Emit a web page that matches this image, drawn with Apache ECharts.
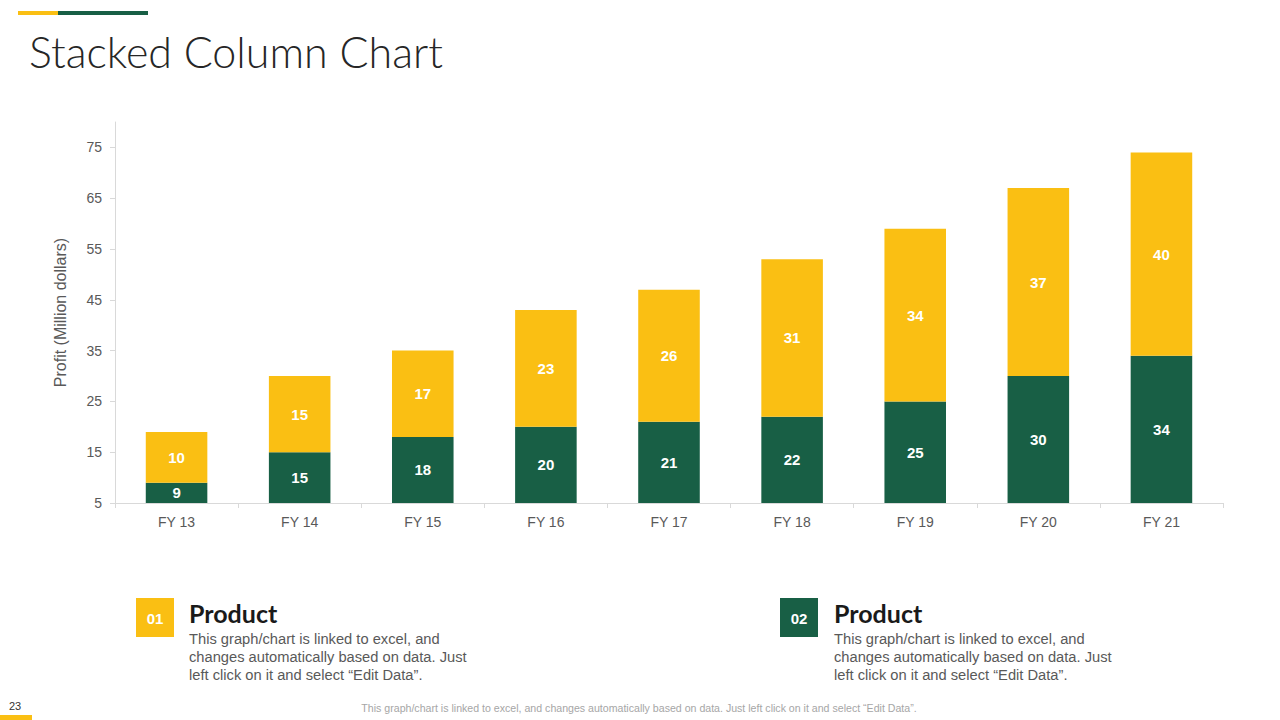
<!DOCTYPE html>
<html>
<head>
<meta charset="utf-8">
<script src="https://cdn.jsdelivr.net/npm/echarts@6/dist/echarts.min.js"></script>
<style>
html,body{margin:0;padding:0;background:#fff;}
#chart{width:1280px;height:720px;}
</style>
</head>
<body>
<div id="chart"></div>
<script>
var categories = ['FY 13','FY 14','FY 15','FY 16','FY 17','FY 18','FY 19','FY 20','FY 21'];
var seriesGreen = [9,15,18,20,21,22,25,30,34];
var seriesYellow = [10,15,17,23,26,31,34,37,40];
var yMin = 5, yMax = 80, yInterval = 10;

var GREEN = '#185F45';
var YELLOW = '#FABF13';
var descText = 'This graph/chart is linked to excel, and\nchanges automatically based on data. Just\nleft click on it and select \u201cEdit Data\u201d.';

var chart = echarts.init(document.getElementById('chart'), null, {renderer:'svg'});
chart.setOption({
  backgroundColor:'#fff',
  animation:false,
  grid:{left:115,right:57,top:122,bottom:217,containLabel:false},
  xAxis:{
    type:'category',
    data:categories,
    axisLine:{lineStyle:{color:'#d9d9d9'}},
    axisTick:{show:true,length:5,lineStyle:{color:'#d9d9d9'}},
    axisLabel:{color:'#595959',fontSize:14,fontFamily:'Liberation Sans, Arial',margin:12}
  },
  yAxis:{
    type:'value',
    min:yMin,max:yMax,interval:yInterval,
    name:'Profit (Million dollars)',
    nameLocation:'middle',
    nameGap:47,
    nameTextStyle:{color:'#595959',fontSize:16,fontFamily:'Liberation Sans, Arial'},
    axisLine:{show:true,lineStyle:{color:'#d9d9d9'}},
    axisTick:{show:true,length:5,lineStyle:{color:'#d9d9d9'}},
    splitLine:{show:false},
    axisLabel:{color:'#595959',fontSize:14,fontFamily:'Liberation Sans, Arial',margin:13,showMaxLabel:false}
  },
  series:[
    {name:'Green',type:'bar',stack:'total',data:seriesGreen,barWidth:'50%',
     itemStyle:{color:GREEN},
     label:{show:true,position:'inside',color:'#fff',fontWeight:'bold',fontSize:15,fontFamily:'Liberation Sans, Arial'}},
    {name:'Yellow',type:'bar',stack:'total',data:seriesYellow,barWidth:'50%',
     itemStyle:{color:YELLOW},
     label:{show:true,position:'inside',color:'#fff',fontWeight:'bold',fontSize:15,fontFamily:'Liberation Sans, Arial'}}
  ],
  graphic:[
    {type:'rect',shape:{x:18,y:11,width:40,height:4},style:{fill:YELLOW}},
    {type:'rect',shape:{x:58,y:11,width:90,height:4},style:{fill:GREEN}},
    {type:'text',x:29,y:51,style:{text:'Stacked Column Chart',fill:'#262626',font:'300 43px Lato',textVerticalAlign:'middle'}},
    {type:'rect',shape:{x:136,y:598,width:38,height:39},style:{fill:YELLOW}},
    {type:'text',x:155,y:618,style:{text:'01',fill:'#fff',font:'bold 15px Liberation Sans',textAlign:'center',textVerticalAlign:'middle'}},
    {type:'text',x:189,y:613,style:{text:'Product',fill:'#1a1a1a',font:'bold 25px Lato',textVerticalAlign:'middle'}},
    {type:'text',x:189,y:630,style:{text:descText,fill:'#595959',font:'14.7px Liberation Sans',lineHeight:18,textVerticalAlign:'top'}},
    {type:'rect',shape:{x:780,y:598,width:38,height:39},style:{fill:GREEN}},
    {type:'text',x:799,y:618,style:{text:'02',fill:'#fff',font:'bold 15px Liberation Sans',textAlign:'center',textVerticalAlign:'middle'}},
    {type:'text',x:834,y:613,style:{text:'Product',fill:'#1a1a1a',font:'bold 25px Lato',textVerticalAlign:'middle'}},
    {type:'text',x:834,y:630,style:{text:descText,fill:'#595959',font:'14.7px Liberation Sans',lineHeight:18,textVerticalAlign:'top'}},
    {type:'text',x:15,y:706,style:{text:'23',fill:'#333',font:'11px Liberation Sans',textAlign:'center',textVerticalAlign:'middle'}},
    {type:'rect',shape:{x:0,y:715,width:32,height:5},style:{fill:YELLOW}},
    {type:'text',x:639,y:708,style:{text:'This graph/chart is linked to excel, and changes automatically based on data. Just left click on it and select \u201cEdit Data\u201d.',fill:'#a6a6a6',font:'10.6px Liberation Sans',textAlign:'center',textVerticalAlign:'middle'}}
  ]
});
</script>
</body>
</html>
